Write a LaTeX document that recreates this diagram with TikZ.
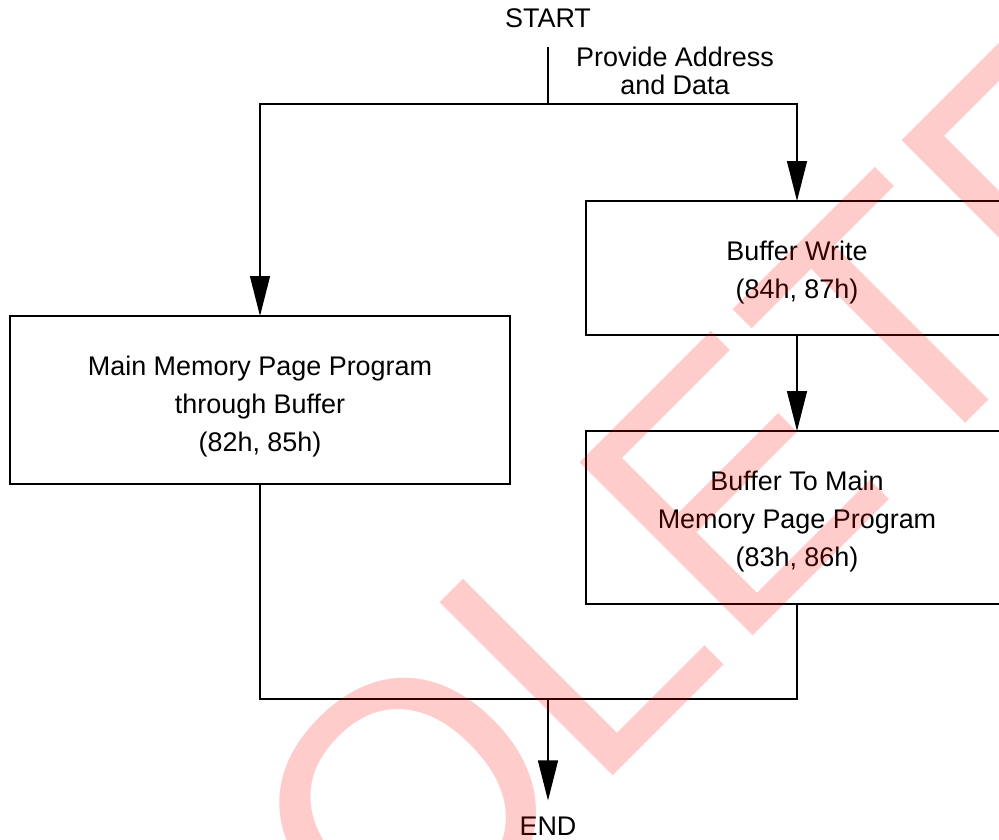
\documentclass[tikz,border=0pt]{standalone}
\usepackage{fontspec}
\setmainfont{Liberation Sans}
\usepackage{tikz}
\usetikzlibrary{positioning,arrows.meta}
\definecolor{stamp}{RGB}{255,0,0}

\begin{document}
\begin{tikzpicture}[x=0.75pt,y=-0.75pt,
  font=\fontsize{20.2}{28.5}\selectfont,
  stepbox/.style={draw,line width=2pt,outer sep=0pt},
  steptext/.style={align=center,inner sep=0pt},
  flow/.style={line width=1pt},
  arr/.style={flow,-{Triangle[length=30pt,width=15pt]}}]
% Page frame
\useasboundingbox (0,0) rectangle (999,839);
\clip (0,0) rectangle (999,839);
% Start and the first split
\node[outer ysep=15pt,inner sep=0pt,anchor=base] (start) at (548,27) {START};
\coordinate (split) at (548,104);
\node[steptext,font=\fontsize{20.2}{21}\selectfont] (addr) at (675,70.5) {Provide Address\\and Data};
% The three steps (frame, then its text a little below centre)
\node[stepbox,minimum width=375pt,minimum height=126pt] (thru) at (260,400) {};
\node[steptext] (thru-txt) at (260,406.5) {Main Memory Page Program\\through Buffer\\(82h, 85h)};
\node[stepbox,minimum width=316.5pt,minimum height=100.5pt] (bufwr) at (797,268) {};
\node[steptext] (bufwr-txt) at (797,272.5) {Buffer Write\\(84h, 87h)};
\node[stepbox,minimum width=316.5pt,minimum height=129.75pt] (buf2main) at (797,517.5) {};
\node[steptext] (buf2main-txt) at (797,521.5) {Buffer To Main\\Memory Page Program\\(83h, 86h)};
% End
\coordinate (join) at (548,699);
\node[outer ysep=12pt,inner sep=0pt,anchor=base] (finish) at (548,835) {END};
% Connectors
\draw[flow] (start.south) -- (split);
\draw[arr] (split) -| (thru.north);
\draw[arr] (split) -| (bufwr.north);
\draw[arr] (bufwr.south) -- (buf2main.north);
\draw[flow] (thru.south) |- (join) -| (buf2main.south);
\draw[arr] (join) -- (finish.north);
% Watermark on top
\node[inner sep=0pt,anchor=base,rotate=45,text=stamp,text opacity=0.2,
  font=\fontsize{267}{267}\selectfont] (stamp) at (544,845) {OBSOLETE};
\end{tikzpicture}
\end{document}
